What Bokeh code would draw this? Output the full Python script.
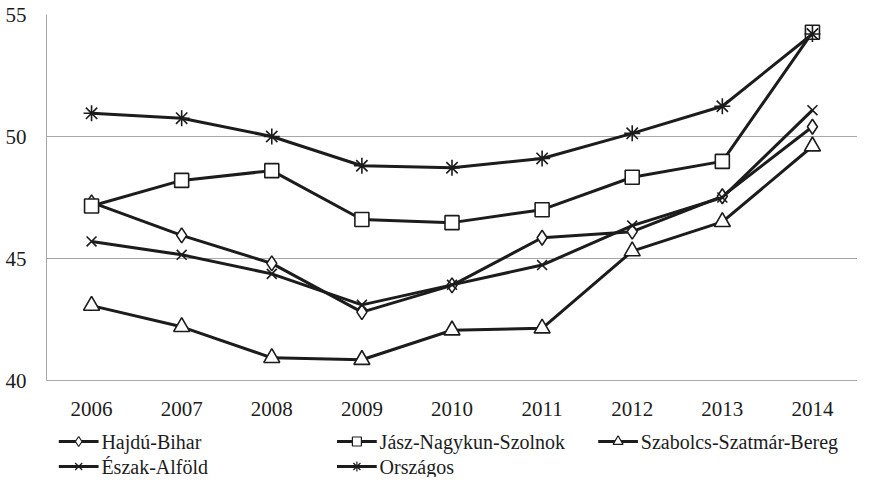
from bokeh.plotting import figure
from bokeh.layouts import column
from bokeh.models import Range1d, FactorRange
from bokeh.core.properties import value
from bokeh.embed import file_html
from bokeh.resources import INLINE

years = ["2006", "2007", "2008", "2009", "2010", "2011", "2012", "2013", "2014"]
hajdu_bihar = [47.3, 45.95, 44.8, 42.8, 43.9, 45.85, 46.1, 47.55, 50.4]
jasz_nagykun_szolnok = [47.15, 48.2, 48.6, 46.6, 46.47, 47.0, 48.33, 48.98, 54.27]
szabolcs = [43.07, 42.2, 40.93, 40.85, 42.06, 42.14, 45.3, 46.5, 49.6]
eszak_alfold = [45.7, 45.15, 44.37, 43.1, 43.92, 44.73, 46.35, 47.5, 51.08]
orszagos = [50.95, 50.75, 50.0, 48.8, 48.72, 49.1, 50.13, 51.24, 54.2]

names = ["Hajdú-Bihar", "Jász-Nagykun-Szolnok", "Szabolcs-Szatmár-Bereg",
         "Észak-Alföld", "Országos"]
values_list = [hajdu_bihar, jasz_nagykun_szolnok, szabolcs, eszak_alfold, orszagos]
markers = ["diamond", "square", "triangle", "x", "asterisk"]
marker_sizes = [15, 14, 16, 14, 16]
legend_marker_sizes = [10, 9, 10, 10, 10]

FONT_X = "Liberation Serif"
FONT_Y = "'Liberation Serif', 'Times New Roman', serif"
FONT_L = "'Liberation Serif', 'Times New Roman', serif"
INK = "#1c1c1c"
GRID = "#a8a8a8"

p = figure(
    x_range=FactorRange(factors=years, range_padding=0),
    y_range=Range1d(40, 55),
    width=857, height=420,
    output_backend="svg", toolbar_location=None,
    min_border_left=46, min_border_right=0, min_border_top=14, min_border_bottom=40,
)
p.outline_line_color = None
p.background_fill_color = "white"
p.border_fill_color = "white"

p.xgrid.grid_line_color = None
p.ygrid.grid_line_color = GRID
p.ygrid.grid_line_width = 1
p.yaxis.ticker = [40, 45, 50, 55]

for ax, fnt in ((p.xaxis[0], FONT_X), (p.yaxis[0], FONT_Y)):
    ax.axis_line_color = GRID
    ax.axis_line_width = 1
    ax.major_tick_line_color = None
    ax.minor_tick_line_color = None
    ax.major_tick_in = 0
    ax.major_tick_out = 0
    ax.major_label_text_font = fnt
    ax.major_label_text_font_size = "21px"
    ax.major_label_text_color = INK
p.yaxis.major_label_standoff = 20
p.xaxis.major_label_standoff = 21

for vals, marker, size in zip(values_list, markers, marker_sizes):
    p.line(years, vals, line_color=INK, line_width=3)
    p.scatter(years, vals, marker=marker, size=size, line_color=INK,
              line_width=1.6, fill_color="white")

# legend strip below the chart: a 3-column grid, screen-pixel coordinates
LEG_W, LEG_H = 857, 57
lf = figure(
    width=LEG_W, height=LEG_H, x_range=Range1d(0, LEG_W), y_range=Range1d(0, LEG_H),
    output_backend="svg", toolbar_location=None,
    x_axis_location=None, y_axis_location=None,
    min_border_left=0, min_border_right=0, min_border_top=0, min_border_bottom=0,
)
lf.outline_line_color = None
lf.grid.visible = False
lf.background_fill_color = "white"
lf.border_fill_color = "white"

col_x = [13, 307, 583]
row_y = [36, 11]
glyph_w = 42
for i, (name, marker, lsize) in enumerate(zip(names, markers, legend_marker_sizes)):
    x0 = col_x[i % 3]
    y0 = row_y[i // 3]
    lf.segment(x0=[x0], y0=[y0], x1=[x0 + glyph_w], y1=[y0], line_color=INK, line_width=3)
    lf.scatter([x0 + glyph_w / 2], [y0], marker=marker, size=lsize, line_color=INK,
               line_width=1.2, fill_color="white")
    lf.text([x0 + glyph_w + 3], [y0], text=[name], text_font=value(FONT_L),
            text_font_size="20px", text_color=INK, text_baseline="middle",
            text_align="left")

layout = column(p, lf, spacing=0)
open("out.html", "w").write(file_html(layout, INLINE))
